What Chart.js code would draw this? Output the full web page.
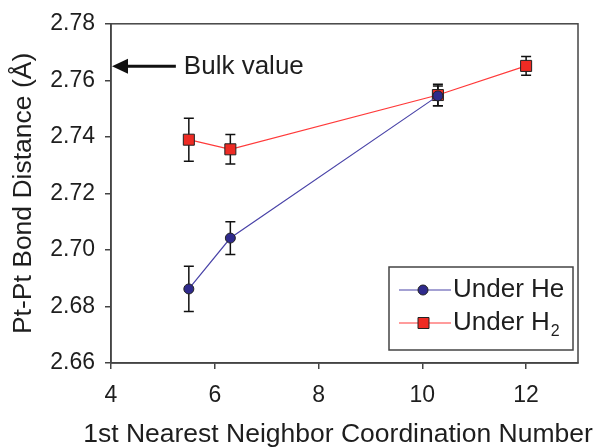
<!DOCTYPE html>
<html>
<head>
<meta charset="utf-8">
<script src="https://cdn.jsdelivr.net/npm/chart.js@4/dist/chart.umd.min.js"></script>
<style>
  html, body { margin: 0; padding: 0; background: #fff; }
  #wrap { width: 596px; height: 448px; }
</style>
</head>
<body>
<div id="wrap"><canvas id="chart" width="596" height="448"></canvas></div>
<script>
// data
const heX = [5.5, 6.3, 10.3];
const heY = [2.6862, 2.7042, 2.7545];
const heErr = [0.008, 0.0058, 0.0035];

const h2X = [5.5, 6.3, 10.3, 12.0];
const h2Y = [2.739, 2.7356, 2.7548, 2.7651];
const h2Err = [0.0076, 0.0052, 0.0038, 0.0033];

const xTicks = [4, 6, 8, 10, 12];
const yTicks = [2.66, 2.68, 2.70, 2.72, 2.74, 2.76, 2.78];
const bulkValue = 2.765;
const bulkArrowEnd = 5.25;

const FONT = "'Liberation Sans', Arial, sans-serif";
const TEXT = "#1e1e1e";
const blue = "#2f2a8c";
const blueLine = "#4a44a8";
const red = "#ee2b24";
const redLine = "#ff3a3a";

const toPts = (xs, ys) => xs.map((x, i) => ({ x, y: ys[i] }));

// error bars, drawn under the markers
const errorBars = {
  id: "errorBars",
  beforeDatasetsDraw(chart) {
    const { ctx, scales: { x, y } } = chart;
    const sets = [[heX, heY, heErr], [h2X, h2Y, h2Err]];
    ctx.save();
    ctx.strokeStyle = "#111";
    ctx.lineWidth = 1.5;
    sets.forEach(([xs, ys, es]) => {
      xs.forEach((xv, i) => {
        const px = x.getPixelForValue(xv);
        const top = y.getPixelForValue(ys[i] + es[i]);
        const bot = y.getPixelForValue(ys[i] - es[i]);
        ctx.beginPath();
        ctx.moveTo(px, top); ctx.lineTo(px, bot);
        ctx.moveTo(px - 5, top); ctx.lineTo(px + 5, top);
        ctx.moveTo(px - 5, bot); ctx.lineTo(px + 5, bot);
        ctx.stroke();
      });
    });
    ctx.restore();
  }
};

// frame, bulk arrow, x title and the legend box
const extras = {
  id: "extras",
  afterDraw(chart) {
    const { ctx, chartArea: a, scales: { x, y } } = chart;
    ctx.save();
    ctx.strokeStyle = "#444";
    ctx.lineWidth = 1.5;
    ctx.strokeRect(a.left, a.top, a.right - a.left, a.bottom - a.top);

    // x axis title, a bit left of the plot centre as in the original
    ctx.fillStyle = TEXT;
    ctx.font = "26.5px " + FONT;
    ctx.textAlign = "center";
    ctx.textBaseline = "middle";
    ctx.fillText("1st Nearest Neighbor Coordination Number", chart.width / 2 + 40, chart.height - 13);
    ctx.textAlign = "left";

    // arrow for the bulk value
    const ay = y.getPixelForValue(bulkValue);
    const ax0 = x.getPixelForValue(x.min);
    const ax1 = x.getPixelForValue(bulkArrowEnd);
    ctx.fillStyle = "#111";
    ctx.strokeStyle = "#111";
    ctx.lineWidth = 3;
    ctx.beginPath();
    ctx.moveTo(ax1, ay); ctx.lineTo(ax0 + 12, ay);
    ctx.stroke();
    ctx.beginPath();
    ctx.moveTo(ax0 + 1, ay);
    ctx.lineTo(ax0 + 17, ay - 7.5);
    ctx.lineTo(ax0 + 17, ay + 7.5);
    ctx.closePath();
    ctx.fill();
    ctx.font = "26px " + FONT;
    ctx.fillStyle = TEXT;
    ctx.fillText("Bulk value", ax1 + 8, ay + 1);

    // legend in lower right
    const lx = a.right - 189, ly = a.bottom - 96, lw = 184, lh = 83;
    ctx.fillStyle = "#fff";
    ctx.fillRect(lx, ly, lw, lh);
    ctx.strokeStyle = "#444";
    ctx.lineWidth = 1.5;
    ctx.strokeRect(lx, ly, lw, lh);

    const rows = [
      { y: ly + 23, line: blueLine, fill: blue, shape: "circle" },
      { y: ly + 56, line: redLine, fill: red, shape: "rect" }
    ];
    rows.forEach(r => {
      ctx.strokeStyle = r.line;
      ctx.lineWidth = 1.2;
      ctx.beginPath();
      ctx.moveTo(lx + 10, r.y); ctx.lineTo(lx + 62, r.y);
      ctx.stroke();
      ctx.fillStyle = r.fill;
      ctx.strokeStyle = "#222";
      ctx.lineWidth = 1;
      ctx.beginPath();
      if (r.shape === "circle") ctx.arc(lx + 34, r.y, 5, 0, Math.PI * 2);
      else ctx.rect(lx + 29, r.y - 5.5, 11, 11);
      ctx.fill();
      ctx.stroke();
    });
    ctx.fillStyle = TEXT;
    ctx.font = "26px " + FONT;
    ctx.fillText("Under He", lx + 64, rows[0].y);
    ctx.fillText("Under H", lx + 64, rows[1].y);
    const w = ctx.measureText("Under H").width;
    ctx.font = "16px " + FONT;
    ctx.fillText("2", lx + 64 + w + 1, rows[1].y + 9);
    ctx.restore();
  }
};

new Chart(document.getElementById("chart"), {
  type: "scatter",
  data: {
    datasets: [
      {
        label: "Under He",
        data: toPts(heX, heY),
        showLine: true,
        borderColor: blueLine,
        borderWidth: 1.2,
        backgroundColor: blue,
        pointStyle: "circle",
        pointRadius: 5,
        pointBorderColor: "#222",
        pointBorderWidth: 1,
        pointHoverRadius: 5
      },
      {
        label: "Under H2",
        data: toPts(h2X, h2Y),
        showLine: true,
        borderColor: redLine,
        borderWidth: 1.2,
        backgroundColor: red,
        pointStyle: "rect",
        pointRadius: 7.8,
        pointBorderColor: "#222",
        pointBorderWidth: 1,
        pointHoverRadius: 7.8
      }
    ]
  },
  options: {
    responsive: false,
    animation: false,
    layout: { padding: { left: 0, right: 18, top: 23, bottom: 0 } },
    plugins: {
      legend: { display: false },
      tooltip: { enabled: false }
    },
    scales: {
      x: {
        type: "linear",
        min: 4,
        max: 13,
        afterBuildTicks: s => { s.ticks = xTicks.map(v => ({ value: v })); },
        afterFit: s => { s.height = 85; },
        grid: { drawOnChartArea: false, drawTicks: true, tickLength: 6, color: "#444", lineWidth: 1.5 },
        border: { display: true, color: "#444", width: 1.5 },
        ticks: { color: TEXT, font: { family: FONT, size: 23 }, padding: 13 },
        title: { display: false }
      },
      y: {
        min: 2.66,
        max: 2.78,
        afterBuildTicks: s => { s.ticks = yTicks.map(v => ({ value: v })); },
        afterFit: s => { s.width = 111; },
        grid: { drawOnChartArea: false, drawTicks: true, tickLength: 6, color: "#444", lineWidth: 1.5 },
        border: { display: true, color: "#444", width: 1.5 },
        ticks: {
          color: TEXT,
          font: { family: FONT, size: 23 },
          padding: 10,
          callback: v => v.toFixed(2)
        },
        title: {
          display: true,
          text: "Pt-Pt Bond Distance (Å)",
          color: TEXT,
          font: { family: FONT, size: 26.5, lineHeight: 1 },
          padding: { top: 10, bottom: 0 }
        }
      }
    }
  },
  plugins: [errorBars, extras]
});
</script>
</body>
</html>
